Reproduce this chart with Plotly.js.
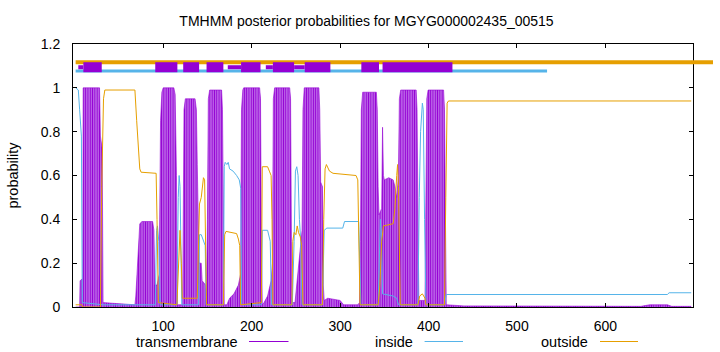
<!DOCTYPE html>
<html><head><meta charset="utf-8">
<script src="https://cdn.plot.ly/plotly-3.0.1.min.js"></script>
<style>html,body{margin:0;padding:0;background:#fff}#chart{width:720px;height:352px}</style>
</head><body><div id="chart"></div>
<script>
const titleText = "TMHMM posterior probabilities for MGYG000002435_00515";
const yTitle = "probability";
const seriesNames = ["transmembrane", "inside", "outside"];
const xTickVals = [100, 200, 300, 400, 500, 600];
const yTickVals = [0, 0.2, 0.4, 0.6, 0.8, 1, 1.2];

// transmembrane posterior
const tmX = [1,5.5,6,9,9.5,28,29,31,32,68,69,72,73.5,76,88,89.5,90.5,93,95.5,97,98.5,100,112,113.5,115,116,
  122,123.5,125,136,137.5,138.5,139.5,140.5,143,144,148,149,150,151,152.5,166,167,168,169,
  172,175,180,185,187.5,188.5,190,191,209,210,211,212,214,218,222,223.5,224.5,226,243,244,245,246,
  249,251,253,255,257,258,259.5,276,277,278,280,281,282,286,300,304,320,322,323,324,325.5,341,342,343,
  344,347,348,349,350,355,360,362,364,366,367,368.5,386,387,388,389,396,397,398,399.5,417,418,419,420,
  440,470,500,560,640,650,670,675,697];
const tmY = [0,0,0.12,0.13,1.0,1.0,0.78,0.72,0.02,0.01,0.05,0.25,0.38,0.39,0.39,0.35,0.1,0.1,0.15,0.85,0.98,1.0,1.0,0.97,0.6,0.01,
  0.01,0.9,0.95,0.95,0.9,0.65,0.3,0.2,0.2,0.12,0.1,0.05,0.4,0.95,0.99,0.99,0.9,0.3,0.01,
  0.01,0.04,0.06,0.1,0.15,0.9,0.99,1.0,1.0,0.95,0.3,0.01,0.02,0.05,0.12,0.2,0.95,1.0,1.0,0.95,0.3,0.02,
  0.02,0.1,0.2,0.28,0.35,0.9,1.0,1.0,0.9,0.57,0.55,0.1,0.03,0.04,0.03,0.01,0.01,0.02,0.3,0.9,0.98,0.98,0.9,0.55,
  0.42,0.45,0.82,0.6,0.58,0.59,0.58,0.55,0.5,0.6,0.95,0.99,0.99,0.9,0.2,0.03,0.03,0.5,0.95,0.99,0.99,0.9,0.2,0.01,
  0.005,0.005,0.003,0.003,0.003,0.01,0.01,0.003,0.003];

// inside posterior
const inX = [1,4,5.5,7.5,8.5,32,91,92.5,93.5,95,96.5,115.5,117,118,119,120,121,140,141,143,146,147.5,148.5,
  168,169,170,172,173.5,175,179,183,186,187.7,188.7,211,212,218,219,221,222.5,246,248,249.5,251,252.5,254,255.5,257,
  280,282,285,303,305,321,322.5,323.5,343,344,345.5,347,348,360,364,366,388,389.5,391,393,394,395.5,397,
  418,420,670,672,697];
const inY = [1.0,0.99,0.9,0.78,0.02,0.01,0.01,0.35,0.37,0.3,0.01,0.01,0.5,0.6,0.55,0.3,0.01,0.01,0.33,0.33,0.3,0.28,0.01,
  0.01,0.64,0.66,0.65,0.66,0.63,0.62,0.6,0.58,0.54,0.01,0.01,0.35,0.35,0.33,0.3,0.01,0.01,0.3,0.62,0.64,0.6,0.4,0.3,0.01,
  0.01,0.35,0.36,0.36,0.39,0.39,0.2,0.01,0.01,0.2,0.4,0.3,0.06,0.05,0.04,0.01,0.01,0.5,0.8,0.93,0.9,0.4,0.01,
  0.01,0.057,0.057,0.065,0.065];

// outside posterior
const outX = [1,8,9,29,30.5,32.5,34,68,70,73.5,75,92,93,94.5,115.5,117.5,119,120.5,121.5,138.5,140,141,143,144,145.5,146.8,147.8,149,
  168,169.5,171,183,185,186.5,187.5,211,212,218,220,222,223,224,245.5,246.5,248,250,251.5,253,255,256.5,258,
  280,281.5,283,284.5,288,292,318,320,321.5,322.5,343,345,347,349,360,362,364,365,366,367,368,
  388,390,393,396,397,418,419.5,421,422.5,697];
const outY = [0.01,0.01,0.0,0.0,0.55,0.95,0.99,0.99,0.85,0.63,0.615,0.61,0.4,0.02,0.01,0.2,0.35,0.2,0.04,0.04,0.3,0.47,0.5,0.55,0.59,0.58,0.3,0.01,
  0.01,0.33,0.345,0.335,0.31,0.28,0.01,0.02,0.64,0.64,0.62,0.6,0.4,0.01,0.01,0.3,0.34,0.33,0.37,0.34,0.32,0.28,0.01,
  0.01,0.4,0.63,0.65,0.62,0.61,0.6,0.58,0.3,0.01,0.01,0.1,0.3,0.37,0.38,0.45,0.6,0.65,0.55,0.1,0.01,
  0.01,0.05,0.06,0.04,0.01,0.01,0.5,0.93,0.94,0.94];

// predicted topology bars at the top
const outBarX = [1, 722];
const outBarY = [1.117, 1.117];
const inBarX = [1, 534];
const inBarY = [1.077, 1.077];
const tmBoxX = [9.7,30.5,null,91,116,null,122.6,140.6,null,149,168,null,188,210,null,224,248,null,260,289,null,324,344,null,348,427];
const tmBoxY = [1.094,1.094,null,1.094,1.094,null,1.094,1.094,null,1.094,1.094,null,1.094,1.094,null,1.094,1.094,null,1.094,1.094,null,1.094,1.094,null,1.094,1.094];
const tmThinX = [4,9.7,null,173,188,null,216,224,null,248,260];
const tmThinY = [1.094,1.094,null,1.094,1.094,null,1.094,1.094,null,1.094,1.094];

const PURPLE = '#9400D3', BLUE = '#56B4E9', ORANGE = '#E69F00';
const FONT = 'Liberation Sans, Arial, sans-serif';

// geometry (pixels)
const L = 73, R = 693, RX = 713, T = 44, B = 307;
const X0 = -2, X1 = 699;
const pxPerUnit = (R - L) / (X1 - X0);
const X2max = X1 + (RX - R) / pxPerUnit;
const mainDomEnd = (R - L) / (RX - L);

const traces = [
  {x: tmX, y: tmY, mode: 'lines', fill: 'tozeroy', line: {color: PURPLE, width: 0.6},
   fillcolor: '#BE6CE9',
   fillpattern: {shape: '|', size: 2.3, solidity: 0.45, fgcolor: PURPLE, bgcolor: '#C070EA'},
   showlegend: false, hoverinfo: 'skip'},
  {x: inX, y: inY, mode: 'lines', line: {color: BLUE, width: 1}, showlegend: false},
  {x: outX, y: outY, mode: 'lines', line: {color: ORANGE, width: 1}, showlegend: false},
  {x: outBarX, y: outBarY, mode: 'lines', line: {color: ORANGE, width: 4}, showlegend: false},
  {x: outBarX, y: outBarY, xaxis: 'x2', yaxis: 'y2', mode: 'lines', line: {color: ORANGE, width: 4}, showlegend: false},
  {x: inBarX, y: inBarY, mode: 'lines', line: {color: BLUE, width: 3}, showlegend: false},
  {x: tmThinX, y: tmThinY, mode: 'lines', line: {color: PURPLE, width: 4}, showlegend: false},
  {x: tmBoxX, y: tmBoxY, mode: 'lines', line: {color: PURPLE, width: 10}, showlegend: false}
];

const px2x = p => (p - L) / (RX - L);
const py2y = p => (B - p) / (B - T);
const legY = py2y(341.5);
const legendItems = [
  {name: seriesNames[0], textEnd: 240, l0: 249, l1: 288.5, color: PURPLE},
  {name: seriesNames[1], textEnd: 414.5, l0: 424.6, l1: 463, color: BLUE},
  {name: seriesNames[2], textEnd: 590, l0: 600, l1: 638, color: ORANGE}
];

const axisCommon = {ticks: 'inside', ticklen: 4, tickcolor: '#000', showline: true, linecolor: '#000', linewidth: 1,
  mirror: 'ticks', showgrid: false, zeroline: false};

const layout = {
  width: 720, height: 352,
  margin: {l: L, r: 720 - RX, t: T, b: 352 - B, pad: 0},
  paper_bgcolor: '#fff', plot_bgcolor: 'rgba(0,0,0,0)',
  font: {family: FONT, size: 14, color: '#000'},
  title: {text: titleText, font: {family: FONT, size: 14, color: '#000'},
          x: 366.5 / 720, xref: 'container', xanchor: 'center', y: 1 - 21 / 352, yref: 'container', yanchor: 'middle'},
  xaxis: Object.assign({}, axisCommon, {domain: [0, mainDomEnd], range: [X0, X1], tickvals: xTickVals,
          tickfont: {family: FONT, size: 14}, ticklabelstandoff: 6}),
  yaxis: Object.assign({}, axisCommon, {range: [0, 1.2], tickvals: yTickVals,
          tickfont: {family: FONT, size: 14}, ticklabelstandoff: 9,
          title: {text: yTitle, font: {family: FONT, size: 14.5}, standoff: 18}}),
  xaxis2: {domain: [mainDomEnd, 1], range: [X1, X2max], anchor: 'y2', visible: false, showgrid: false, zeroline: false},
  yaxis2: {domain: [0, 1], range: [0, 1.2], anchor: 'x2', visible: false, showgrid: false, zeroline: false},
  showlegend: false,
  annotations: legendItems.map(it => ({text: it.name, xref: 'paper', yref: 'paper', x: px2x(it.textEnd), y: legY,
     xanchor: 'right', yanchor: 'middle', showarrow: false, font: {family: FONT, size: 14.5, color: '#000'}})),
  shapes: legendItems.map(it => ({type: 'line', xref: 'paper', yref: 'paper', x0: px2x(it.l0), x1: px2x(it.l1),
     y0: legY, y1: legY, line: {color: it.color, width: 1}}))
};

Plotly.newPlot('chart', traces, layout, {displayModeBar: false, staticPlot: true});
</script>
</body></html>
